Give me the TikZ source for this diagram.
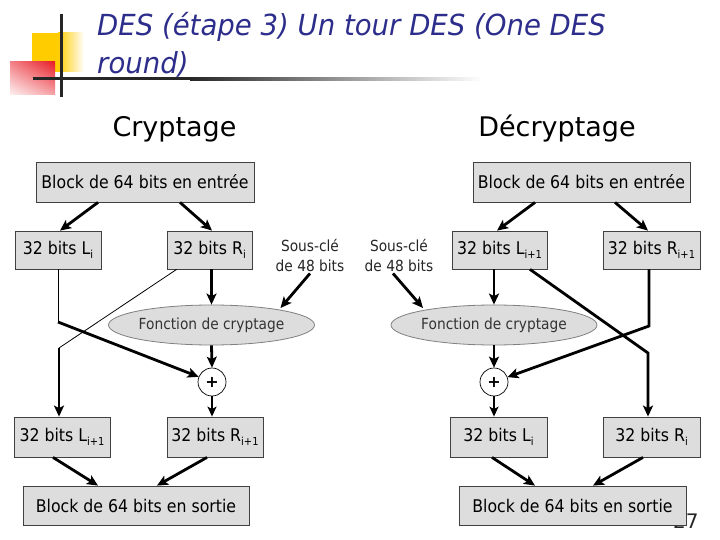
\documentclass[tikz,border=0pt]{standalone}
\usepackage{fontspec}
\setmainfont{DejaVu Sans}
\newfontfamily\titlefont{DejaVu Sans}[FakeStretch=0.95]
\newfontfamily\narrowfont{DejaVu Sans}[FakeStretch=0.9]
\usetikzlibrary{arrows.meta,shapes.geometric,calc,shadings}
\definecolor{navy}{RGB}{45,45,140}
\definecolor{boxgray}{RGB}{221,221,221}
\definecolor{decoyellow}{RGB}{255,204,0}
\definecolor{decored}{RGB}{232,30,40}
\newcommand\mysub[1]{\raisebox{-4.5pt}{\fontsize{11}{11}\selectfont #1}}
\begin{document}
\begin{tikzpicture}[x=1pt,y=-1pt,
  box/.style={draw=black!75, fill=boxgray, line width=0.8pt, inner sep=0pt, font=\narrowfont\fontsize{17.5}{20}\selectfont},
  fn/.style={ellipse, draw=black!50, fill=boxgray, line width=0.8pt, inner sep=0pt, minimum width=177pt, minimum height=40pt, font=\narrowfont\fontsize{15.3}{18}\selectfont, text=black!80},
  xorc/.style={circle, draw=black, fill=white, line width=0.7pt, minimum size=28pt, inner sep=0pt, font=\fontsize{16}{16}\selectfont\bfseries},
  sk/.style={align=center, inner sep=0pt, font=\narrowfont\fontsize{15.3}{20}\selectfont, text=black!85},
  heavy/.style={line width=2.8pt, line join=miter, -{Stealth[length=11pt,width=10pt,inset=2.5pt]}},
  heavyline/.style={line width=2.8pt},
  thinline/.style={line width=0.8pt},
  midarrow/.style={line width=1.8pt, -{Stealth[length=10pt,width=9pt,inset=2.5pt]}}
]
\useasboundingbox (0,0) rectangle (720,540);
\fill[white] (0,0) rectangle (720,540);
% decoration
\fill[decoyellow] (32,33) rectangle (58,72);
\shade[left color=decoyellow, right color=white] (58,33) rectangle (84,72);
\shade[upper left=decored!55, upper right=decored, lower left=decored!6, lower right=decored!40] (10,62) rectangle (55,95);
\fill[black!85] (59.5,14) rectangle (62.5,97);
\fill[black!85] (33,77.5) rectangle (190,80.5);
\shade[left color=black!85, right color=white] (190,77.5) rectangle (483,80.5);
% title
\node[anchor=base west, text=navy, font=\titlefont\itshape\fontsize{29}{35}\selectfont, inner sep=0pt] (title1) at (97,36) {DES (étape 3) Un tour DES (One DES};
\node[anchor=base west, text=navy, font=\titlefont\itshape\fontsize{29}{35}\selectfont, inner sep=0pt] (title2) at (97,74) {round)};
% headings
\node[anchor=base, font=\fontsize{27}{30}\selectfont, inner sep=0pt] (hc) at (174.5,137) {Cryptage};
\node[anchor=base, font=\fontsize{27}{30}\selectfont, inner sep=0pt] (hd) at (557,137) {Décryptage};
% page number
\node[anchor=base west, font=\fontsize{20}{20}\selectfont, text=black!85, inner sep=0pt] (pg) at (673,528) {27};

% ---------- left: Cryptage ----------
\node[box, minimum width=218pt, minimum height=40pt] (inL) at (145,182) {Block de 64 bits en entrée};
\node[box, minimum width=86pt, minimum height=38pt] (Li) at (58,250) {32 bits L\mysub{i}};
\node[box, minimum width=85pt, minimum height=38pt] (Ri) at (209.5,250) {32 bits R\mysub{i}};
\node[sk] (skL) at (310,255) {Sous-clé\\de 48 bits};
\node[fn] (fL) at (211.5,325) {Fonction de cryptage};
\node[xorc] (xL) at (212,382) {+};
\node[box, minimum width=96pt, minimum height=40pt] (Li1) at (62,437) {32 bits L\mysub{i+1}};
\node[box, minimum width=96pt, minimum height=40pt] (Ri1) at (215,437) {32 bits R\mysub{i+1}};
\node[box, minimum width=226pt, minimum height=39pt] (outL) at (136,505.5) {Block de 64 bits en sortie};
\coordinate (cL1) at (58,322);
\coordinate (cL2) at (59,348);

\draw[heavy] ($(inL.south)+(-47,0)$) -- ($(Li.north)+(2,0)$);
\draw[heavy] ($(inL.south)+(35,0)$) -- ($(Ri.north)+(2.5,0)$);
\draw[heavy] ($(Ri.south)+(2,0)$) -- (fL.north);
\draw[heavy] ($(skL.south)+(0,2)$) -- ($(fL.center)+(69,-17)$);
\draw[thinline] (Li.south) -- (cL1);
\draw[heavy] (cL1) -- (xL);
\draw[thinline] ($(Ri.south west)+(10,0)$) -- (cL2);
\draw[heavy] (cL2) -- (cL2 |- Li1.north);
\draw[heavy] (fL.south) -- (xL.north);
\draw[midarrow] (xL.south) -- (xL.south |- Ri1.north);
\draw[heavy] ($(Li1.south)+(-9,0)$) -- ($(outL.north)+(-38,0)$);
\draw[heavy] ($(Ri1.south)+(-8,0)$) -- ($(outL.north)+(21,0)$);

% ---------- right: Decryptage ----------
\node[box, minimum width=217pt, minimum height=40pt] (inR) at (581.5,182) {Block de 64 bits en entrée};
\node[box, minimum width=95pt, minimum height=38pt] (Li1R) at (499.5,250) {32 bits L\mysub{i+1}};
\node[box, minimum width=97pt, minimum height=38pt] (Ri1R) at (651.5,250) {32 bits R\mysub{i+1}};
\node[sk] (skR) at (399,255) {Sous-clé\\de 48 bits};
\node[fn, minimum width=178pt] (fR) at (494,325) {Fonction de cryptage};
\node[xorc] (xR) at (494,382) {+};
\node[box, minimum width=97pt, minimum height=40pt] (LiR) at (498.5,437) {32 bits L\mysub{i}};
\node[box, minimum width=97pt, minimum height=40pt] (RiR) at (651.5,437) {32 bits R\mysub{i}};
\node[box, minimum width=227pt, minimum height=39pt] (outR) at (572.5,505.5) {Block de 64 bits en sortie};
\coordinate (cR1) at (648,353);
\coordinate (cR2) at (649,326);

\draw[heavy] ($(inR.south)+(-46.5,0)$) -- ($(Li1R.north)+(-2.5,0)$);
\draw[heavy] ($(inR.south)+(33.5,0)$) -- ($(Ri1R.north)+(-3.5,0)$);
\draw[heavy] ($(Li1R.south)+(-5.5,0)$) -- (fR.north);
\draw[heavy] ($(skR.south)+(-6,2)$) -- ($(fR.center)+(-71,-17)$);
\draw[heavy] ($(Li1R.south)+(30.5,0)$) -- (cR1) -- (cR1 |- RiR.north);
\draw[heavy] ($(Ri1R.south)+(-2.5,0)$) -- (cR2) -- (xR);
\draw[heavy] (fR.south) -- (xR.north);
\draw[midarrow] (xR.south) -- (xR.south |- LiR.north);
\draw[heavy] ($(LiR.south)+(-6.5,0)$) -- ($(outR.north)+(-37.5,0)$);
\draw[heavy] ($(RiR.south)+(-8.5,0)$) -- ($(outR.north)+(20.5,0)$);
\end{tikzpicture}
\end{document}
